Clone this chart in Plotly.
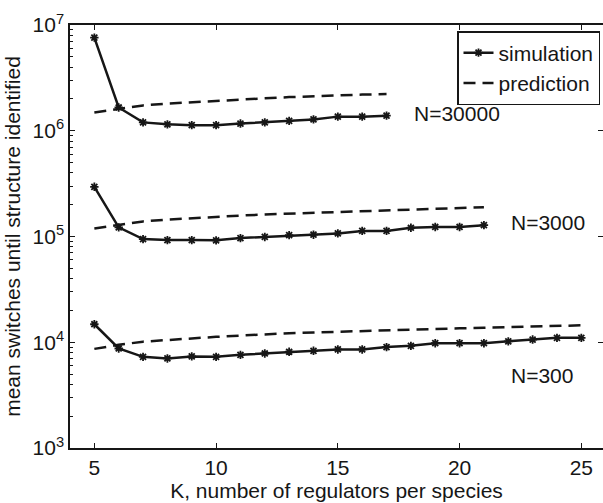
import plotly.graph_objects as go

K30000 = list(range(5, 18))
sim30000 = [7.6e6, 1.66e6, 1.2e6, 1.15e6, 1.13e6, 1.13e6, 1.17e6, 1.2e6, 1.24e6, 1.28e6, 1.36e6, 1.36e6, 1.39e6]
pred30000 = [1.49e6, 1.618e6, 1.736e6, 1.804e6, 1.864e6, 1.915e6, 1.973e6, 2.026e6, 2.080e6, 2.125e6, 2.163e6, 2.196e6, 2.220e6]

K3000 = list(range(5, 22))
sim3000 = [2.95e5, 1.22e5, 9.45e4, 9.25e4, 9.25e4, 9.2e4, 9.66e4, 9.9e4, 1.03e5, 1.04e5, 1.07e5, 1.13e5, 1.13e5, 1.21e5, 1.23e5, 1.23e5, 1.28e5]
pred3000 = [119000, 129600, 138900, 144500, 149200, 153500, 157600, 161500, 164600, 167900, 171200, 174200, 177300, 180400, 183600, 186500, 189300]

K300 = list(range(5, 26))
sim300 = [1.48e4, 8730, 7280, 7030, 7350, 7280, 7600, 7830, 8130, 8300, 8550, 8550, 9000, 9250, 9800, 9800, 9800, 10200, 10600, 11000, 11000]
pred300 = [8660, 9450, 10130, 10540, 10930, 11250, 11570, 11900, 12170, 12380, 12600, 12790, 12990, 13190, 13360, 13540, 13720, 13900, 14080, 14260, 14450]

labels = ["N=30000", "N=3000", "N=300"]
label_x = [18.05, 22.03, 22.03]
label_y = [6.167, 5.136, 3.689]

xticks = [5, 10, 15, 20, 25]
yticks = [1e3, 1e4, 1e5, 1e6, 1e7]
yticktext = ["10<sup>3</sup>", "10<sup>4</sup>", "10<sup>5</sup>", "10<sup>6</sup>", "10<sup>7</sup>"]
yminor = [m * 10 ** e for e in range(3, 7) for m in range(2, 10)]

C = "#161616"
FONT = "Liberation Sans, Arial, sans-serif"

fig = go.Figure()
series = [(K30000, sim30000, pred30000), (K3000, sim3000, pred3000), (K300, sim300, pred300)]
for i, (k, s, p) in enumerate(series):
    fig.add_trace(go.Scatter(
        x=k, y=s, mode="lines+markers", name="simulation", showlegend=(i == 0),
        line=dict(color=C, width=2.5),
        marker=dict(symbol="asterisk-open", size=7, color=C, line=dict(width=1.8, color=C)),
    ))
for i, (k, s, p) in enumerate(series):
    fig.add_trace(go.Scatter(
        x=k, y=p, mode="lines", name="prediction", showlegend=(i == 0),
        line=dict(color=C, width=2.5, dash="12px,7px"),
    ))

# invisible trace for right-side ticks
fig.add_trace(go.Scatter(x=[5], y=[1e4], yaxis="y2", mode="markers",
                         marker=dict(opacity=0), showlegend=False, hoverinfo="skip"))

for t, lx, ly in zip(labels, label_x, label_y):
    fig.add_annotation(x=lx, y=ly, text=t, showarrow=False, xanchor="left", yanchor="middle",
                       font=dict(size=21, color=C, family=FONT))

fig.update_layout(
    width=603, height=503,
    margin=dict(l=70, r=0, t=25, b=55),
    plot_bgcolor="white", paper_bgcolor="white",
    font=dict(family=FONT, size=21, color=C),
    showlegend=True,
    legend=dict(x=(600 - 70) / 533, xanchor="right", y=(448 - 31) / 423, yanchor="top",
                bordercolor=C, borderwidth=1.5, bgcolor="white",
                font=dict(size=21, family=FONT, color=C), tracegroupgap=0,
                itemwidth=30),
    xaxis=dict(range=[4, 25.89], tickvals=xticks, ticks="inside", ticklen=5, tickwidth=1.2,
               tickcolor=C, showline=True, linecolor=C, linewidth=1.5, mirror="ticks",
               showgrid=False, zeroline=False,
               title=dict(text="K, number of regulators per species", font=dict(size=21), standoff=4),
               tickfont=dict(size=21)),
    yaxis=dict(type="log", range=[3, 7], tickvals=yticks, ticktext=yticktext,
               ticks="inside", ticklen=5, tickwidth=1.2, tickcolor=C,
               showline=True, linecolor=C, linewidth=1.5, showgrid=False, zeroline=False,
               minor=dict(tickvals=yminor, ticks="inside", ticklen=3, tickcolor=C, tickwidth=1, showgrid=False),
               title=dict(text="mean switches until structure identified", font=dict(size=21), standoff=6),
               tickfont=dict(size=21)),
    yaxis2=dict(type="log", range=[3, 7], overlaying="y", side="right", anchor="x",
                tickvals=[1e4, 1e5, 1e6], ticks="inside", ticklen=5, tickcolor=C, tickwidth=1.2,
                showticklabels=False, showline=False, showgrid=False, zeroline=False),
)

fig.write_html("out.html")
